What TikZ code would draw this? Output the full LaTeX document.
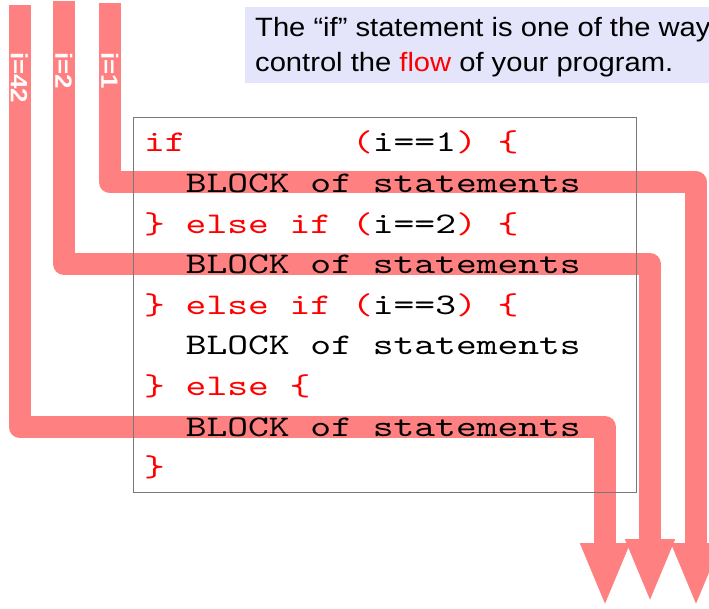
\documentclass[tikz,border=0pt]{standalone}
\usepackage{fontspec}
\setmainfont{Liberation Sans}[FakeStretch=1.1]
\newfontfamily\codefont{lmmono10-regular.otf}[FakeStretch=1.32]
\usetikzlibrary{arrows.meta}
\definecolor{bandpink}{RGB}{255,128,128}
\definecolor{notefill}{RGB}{228,228,250}
\definecolor{kwred}{RGB}{255,0,0}
\definecolor{framegray}{RGB}{120,120,120}
\newcommand{\kw}[1]{\textcolor{kwred}{#1}}
\tikzset{
  band/.style={draw=bandpink, line width=22pt, line join=round,
    -{Triangle[length=64pt,width=45pt]}},
  bandlabel/.style={text=white, font=\fontsize{23.5}{24}\selectfont\bfseries,
    rotate=-90, anchor=west, inner sep=0pt},
  codeline/.style={anchor=base west, inner sep=0pt,
    font=\fontsize{30}{30}\selectfont\codefont},
  noteline/.style={anchor=base west, inner sep=0pt,
    font=\fontsize{26.5}{30}\selectfont},
}
\begin{document}
\begin{tikzpicture}[x=1pt,y=-1pt]
\useasboundingbox (0,0) rectangle (709,609);

% note at the top
\fill[notefill] (245,7) rectangle (730,83);
\node[noteline] (note1) at (255,37) {The “if” statement is one of the way};
\node[noteline] (note2) at (255,72) {control the \kw{flow} of your program.};

% flow bands
\coordinate (s1) at (110,3);
\coordinate (r1) at (400,182.5);
\coordinate (t1) at (696,607);
\coordinate (s2) at (64,1);
\coordinate (r2) at (400,264);
\coordinate (t2) at (650,603);
\coordinate (s42) at (19.5,5);
\coordinate (r42) at (400,427);
\coordinate (t42) at (605,607);

\draw[band] (s1) |- (r1) -| (t1);
\draw[band] (s2) |- (r2) -| (t2);
\draw[band] (s42) |- (r42) -| (t42);

\node[bandlabel] (l1) at (110,52) {i=1};
\node[bandlabel] (l2) at (64,52) {i=2};
\node[bandlabel] (l42) at (19.5,52) {i=42};

% code
\node[draw=framegray, line width=0.8pt, minimum width=503pt, minimum height=375pt,
  anchor=north west, inner sep=0pt] (frame) at (133,117) {};

\node[codeline] (c1) at (144,152) {\kw{if}\ \ \ \ \ \ \ \ \kw{(}i==1\kw{)} \kw{\{}};
\node[codeline] (c2) at (144,192.6) {\ \ BLOCK of statements};
\node[codeline] (c3) at (144,233.2) {\kw{\} else if (}i==2\kw{)} \kw{\{}};
\node[codeline] (c4) at (144,273.8) {\ \ BLOCK of statements};
\node[codeline] (c5) at (144,314.4) {\kw{\} else if (}i==3\kw{)} \kw{\{}};
\node[codeline] (c6) at (144,355) {\ \ BLOCK of statements};
\node[codeline] (c7) at (144,395.6) {\kw{\} else \{}};
\node[codeline] (c8) at (144,436.2) {\ \ BLOCK of statements};
\node[codeline] (c9) at (144,476.8) {\kw{\}}};
\end{tikzpicture}
\end{document}
